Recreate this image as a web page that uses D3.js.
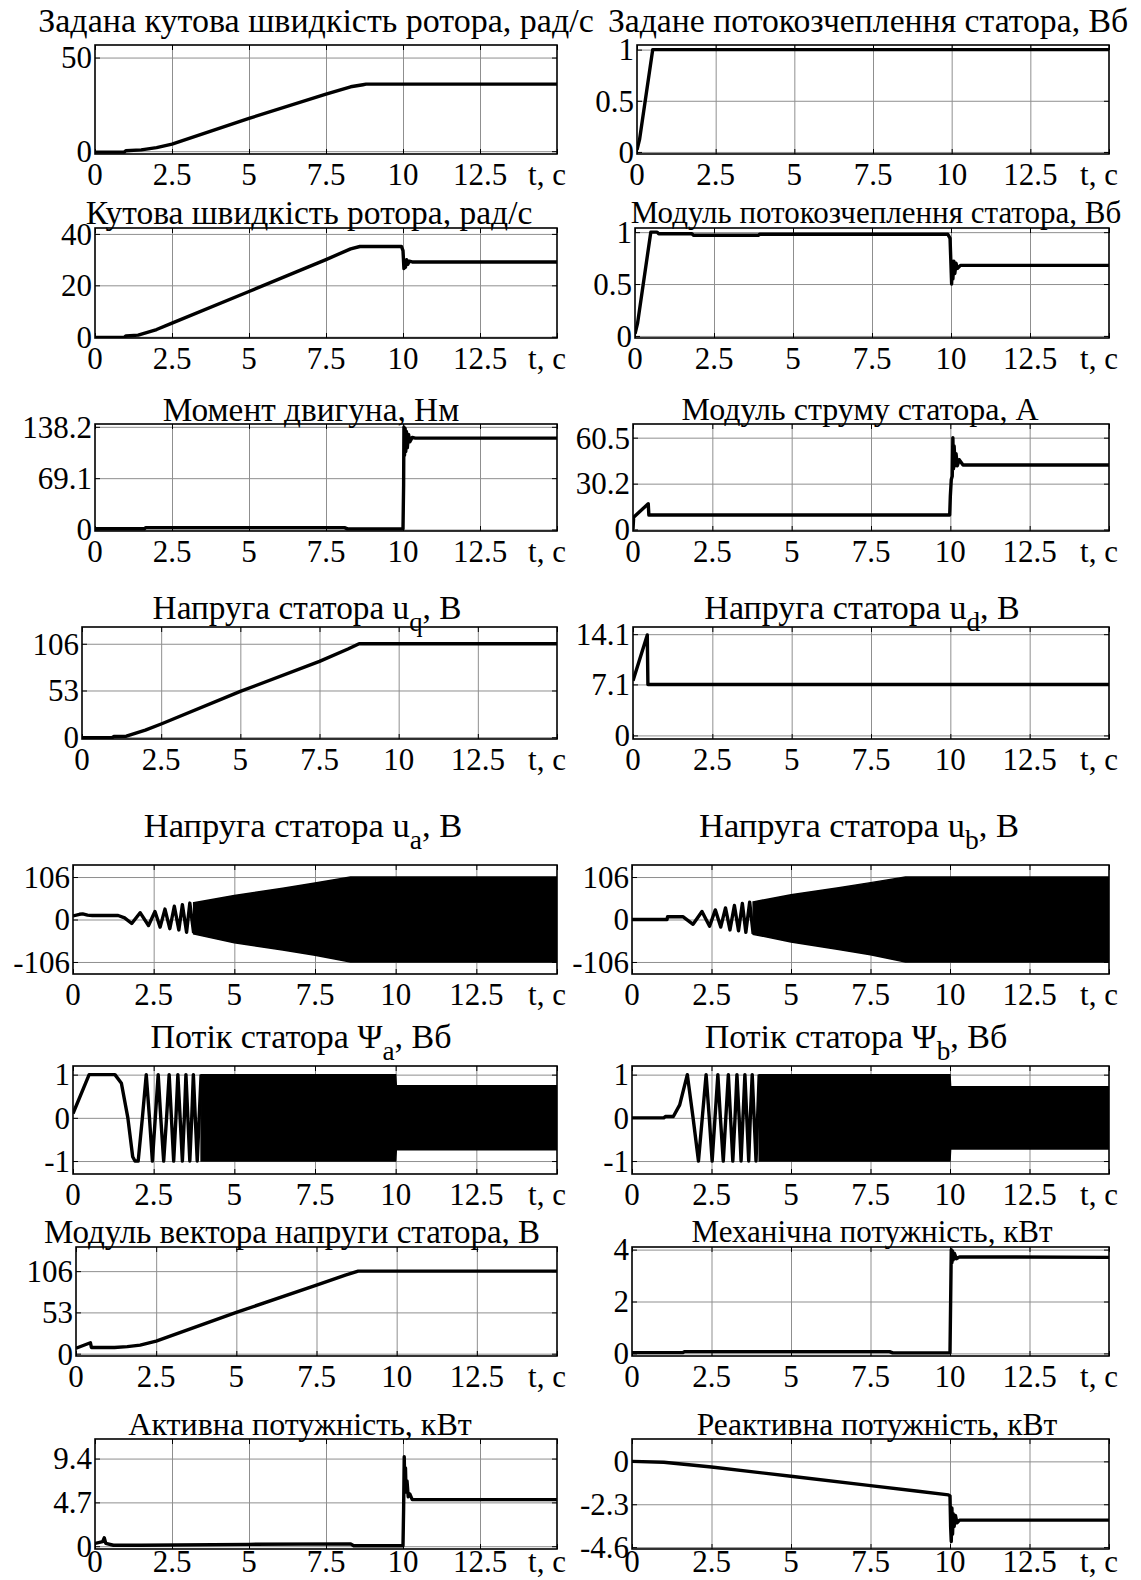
<!DOCTYPE html>
<html>
<head>
<meta charset="utf-8">
<script src="https://cdn.jsdelivr.net/npm/d3@7"></script>
<style>
body { margin: 0; background: #fff; }
svg { display: block; font-family: "Liberation Serif", "Times New Roman", serif; }
</style>
</head>
<body>
<svg id="chart" width="1141" height="1580"></svg>
<script>
// ---- data ----
const xTicks = [0, 2.5, 5, 7.5, 10, 12.5, 15];
const xTickLabels = ["0", "2.5", "5", "7.5", "10", "12.5", "t, c"];

// row 1
const speedRef = [[0,-0.5],[0.95,-0.5],[1.0,0.2],[1.5,0.7],[2.0,1.9],[2.5,3.8],[5,17.5],[7.5,30.5],[8.3,34.4],[8.7,35.5],[8.8,35.8],[15,35.8]];
const fluxRef = [[0,0.02],[0.08,0.12],[0.5,1],[15,1]];
// row 2
const speed = [[0,-0.3],[0.95,-0.3],[1.0,0.3],[1.4,0.6],[2.0,2.8],[2.5,5.3],[5,17.6],[7.5,30],[8.3,34.2],[8.6,35.1],[9.95,35.1],[10.0,33.5],[10.03,26.5],[10.06,29.5],[10.08,27],[10.12,30],[10.16,28.2],[10.2,29.4],[10.3,29.1],[15,29.1]];
const fluxMod = [[0,0.02],[0.08,0.12],[0.5,1],[0.7,1],[0.75,0.985],[1.8,0.985],[1.85,0.97],[3.9,0.97],[3.95,0.98],[9.9,0.98],[9.97,0.94],[10.02,0.5],[10.04,0.72],[10.06,0.55],[10.09,0.72],[10.12,0.6],[10.16,0.7],[10.2,0.65],[10.3,0.68],[15,0.68]];
// row 3
const torque = [[0,1],[1.6,1],[1.65,2.5],[8.1,2.5],[8.2,0.8],[10.0,0.8],[10.02,60],[10.03,138],[10.05,100],[10.07,136],[10.09,105],[10.11,132],[10.14,110],[10.18,128],[10.22,118],[10.3,124],[10.4,123],[15,123]];
const current = [[0,0],[0.02,8],[0.48,17],[0.5,9.5],[9.98,9.5],[10.0,22],[10.03,33],[10.06,35],[10.08,60.5],[10.1,40],[10.12,55],[10.15,42],[10.18,50],[10.22,42],[10.28,46],[10.4,42.5],[15,42.5]];
// row 4
const uq = [[0,-0.5],[0.95,-0.5],[1.0,0.8],[1.4,1.2],[2.0,8],[2.5,15],[5,52],[7.5,86],[8.4,100],[8.75,106],[15,106]];
const ud = [[0,7.6],[0.45,14.0],[0.47,7.1],[15,7.1]];
// row 5: visible early swings, then a dense band given by its envelope [t, low, high]
const uaStart = [[0,9],[0.2,13],[0.3,14],[0.45,11],[0.6,10],[1.4,10],[1.6,4],[1.82,-10],[2.08,17],[2.34,-15],[2.54,20],[2.7,-19],[2.85,26],[3.0,-23],[3.14,33],[3.28,-26],[3.39,37],[3.52,-32],[3.62,41],[3.74,-34]];
const uaBand = [[3.74,-36,42],[5,-58,60],[6.5,-76,78],[7.5,-89,91],[8.6,-106,106],[15,-106,106]];
const ubStart = [[0,0],[1.1,0],[1.12,7],[1.6,7],[1.92,-12],[2.2,20],[2.44,-17],[2.62,24],[2.79,-19],[2.94,29],[3.08,-26],[3.22,35],[3.35,-28],[3.47,40],[3.58,-32],[3.7,43],[3.81,-36]];
const ubBand = [[3.81,-37,44],[5,-56,62],[6.5,-75,79],[7.5,-88,92],[8.6,-106,106],[15,-106,106]];
// row 6
const psiaStart = [[0,0.1],[0.5,1],[1.3,1],[1.5,0.8],[1.7,0],[1.85,-0.9],[1.92,-1],[2.02,-1],[2.15,0],[2.27,1],[2.37,0],[2.46,-1],[2.55,0],[2.64,1],[2.72,0],[2.81,-1],[2.9,0],[2.98,1],[3.05,0],[3.12,-1],[3.19,0],[3.25,1],[3.32,0],[3.39,-1],[3.45,0],[3.5,1],[3.56,0],[3.62,-1],[3.68,0],[3.73,1],[3.79,0],[3.85,-1],[3.91,0],[3.97,1]];
const psiaBand = [[3.97,-1,1],[10.0,-1,1],[10.02,-0.74,0.74],[15,-0.74,0.74]];
const psibStart = [[0,0],[1.0,0],[1.05,0.03],[1.3,0.03],[1.5,0.3],[1.74,1],[1.92,0],[2.09,-1],[2.21,0],[2.33,1],[2.43,0],[2.52,-1],[2.61,0],[2.7,1],[2.78,0],[2.87,-1],[2.95,0],[3.03,1],[3.1,0],[3.17,-1],[3.24,0],[3.3,1],[3.37,0],[3.43,-1],[3.49,0],[3.55,1],[3.61,0],[3.67,-1],[3.72,0],[3.78,1],[3.84,0],[3.9,-1],[3.95,0],[4.0,1]];
const psibBand = [[4.0,-1,1],[10.0,-1,1],[10.02,-0.72,0.72],[15,-0.72,0.72]];
// row 7
const uMod = [[0,7],[0.45,14],[0.48,8],[1.2,8],[1.6,9],[2,11],[2.5,16],[5,53],[7.5,88],[8.4,101],[8.8,106],[15,106]];
const pMech = [[0,0.03],[1.6,0.03],[1.65,0.07],[8.1,0.07],[8.2,0.02],[10.0,0.02],[10.02,2],[10.04,4],[10.06,3.5],[10.08,3.95],[10.1,3.6],[10.14,3.85],[10.2,3.65],[10.3,3.72],[15,3.7]];
// row 8
const pAct = [[0,0.3],[0.25,0.5],[0.3,0.9],[0.35,0.3],[0.6,0.1],[1.5,0.1],[5,0.2],[8.3,0.25],[8.4,0.05],[10.0,0.05],[10.02,4],[10.04,9.6],[10.06,6],[10.08,8.4],[10.1,5.8],[10.13,7],[10.17,5.3],[10.22,5.6],[10.3,5.0],[15,5.0]];
const qReact = [[0,0],[1,-0.05],[2.5,-0.3],[5,-0.8],[7.5,-1.3],[9,-1.6],[9.95,-1.8],[10.0,-1.85],[10.02,-3.5],[10.04,-4.3],[10.06,-2.5],[10.08,-3.9],[10.1,-2.8],[10.13,-3.5],[10.17,-2.9],[10.22,-3.3],[10.3,-3.15],[15,-3.15]];

// ---- layout ----
const rowY = [[45,154],[228,338],[424,531],[627,739],[865,974],[1066,1174],[1247,1356],[1439,1549]];
const titleY = [20,212,409,607,825,1036,1231,1424];
const xLabelGap = [20,20,20,20,20,20,20,12];
const leftX = [95,95,95,82,73,73,76,95];
const rightX = [637,635,633,633,632,632,632,632];
const leftEnd = 557, rightEnd = 1109;

// tx: title centre, ts: title font size
const panels = [
  {row:0,col:0,title:[["Задана кутова швидкість ротора, рад/с"]],tx:316,ts:34,y:[-1.5,56.7],ticks:[0,50],labels:["0","50"],lines:[speedRef]},
  {row:0,col:1,title:[["Задане потокозчеплення статора, Вб"]],tx:868,ts:33.7,y:[-0.02,1.045],ticks:[0,0.5,1],labels:["0","0.5","1"],lines:[fluxRef]},
  {row:1,col:0,title:[["Кутова швидкість ротора, рад/с"]],tx:309,ts:33.5,y:[-0.5,42.3],ticks:[0,20,40],labels:["0","20","40"],lines:[speed]},
  {row:1,col:1,title:[["Модуль потокозчеплення статора, Вб"]],tx:876,ts:31,y:[-0.02,1.04],ticks:[0,0.5,1],labels:["0","0.5","1"],lines:[fluxMod]},
  {row:2,col:0,title:[["Момент двигуна, Нм"]],tx:311,ts:33.3,y:[-2,142],ticks:[0,69.1,138.2],labels:["0","69.1","138.2"],lines:[torque]},
  {row:2,col:1,title:[["Модуль струму статора, А"]],tx:860,ts:32,y:[-1,69.5],ticks:[0,30.2,60.5],labels:["0","30.2","60.5"],lines:[current]},
  {row:3,col:0,title:[["Напруга статора u"],["q",1],[", В"]],tx:307,ts:33.3,y:[-2,125],ticks:[0,53,106],labels:["0","53","106"],lines:[uq]},
  {row:3,col:1,title:[["Напруга статора u"],["d",1],[", В"]],tx:862,ts:34,y:[-0.5,15.1],ticks:[0,7.1,14.1],labels:["0","7.1","14.1"],lines:[ud]},
  {row:4,col:0,title:[["Напруга статора u"],["a",1],[", В"]],tx:303,ts:34.5,y:[-136,136],ticks:[-106,0,106],labels:["-106","0","106"],lines:[uaStart],bands:[uaBand]},
  {row:4,col:1,title:[["Напруга статора u"],["b",1],[", В"]],tx:859,ts:34.5,y:[-136,136],ticks:[-106,0,106],labels:["-106","0","106"],lines:[ubStart],bands:[ubBand]},
  {row:5,col:0,title:[["Потік статора Ψ"],["a",1],[", Вб"]],tx:301,ts:34,y:[-1.3,1.2],ticks:[-1,0,1],labels:["-1","0","1"],lines:[psiaStart],bands:[psiaBand]},
  {row:5,col:1,title:[["Потік статора Ψ"],["b",1],[", Вб"]],tx:856,ts:34,y:[-1.3,1.2],ticks:[-1,0,1],labels:["-1","0","1"],lines:[psibStart],bands:[psibBand]},
  {row:6,col:0,title:[["Модуль вектора напруги статора, В"]],tx:292,ts:33,y:[-3,137],ticks:[0,53,106],labels:["0","53","106"],lines:[uMod]},
  {row:6,col:1,title:[["Механічна потужність, кВт"]],tx:872,ts:31,y:[-0.1,4.1],ticks:[0,2,4],labels:["0","2","4"],lines:[pMech]},
  {row:7,col:0,title:[["Активна потужність, кВт"]],tx:300,ts:32,y:[-0.3,11.5],ticks:[0,4.7,9.4],labels:["0","4.7","9.4"],lines:[pAct]},
  {row:7,col:1,title:[["Реактивна потужність, кВт"]],tx:877,ts:31.5,y:[-4.7,1.2],ticks:[-4.6,-2.3,0],labels:["-4.6","-2.3","0"],lines:[qReact]}
];

const svg = d3.select("#chart");
const tickFont = 31;

panels.forEach((p, i) => {
  const x0 = p.col === 0 ? leftX[p.row] : rightX[p.row];
  const x1 = p.col === 0 ? leftEnd : rightEnd;
  const [y0, y1] = rowY[p.row];
  const x = d3.scaleLinear().domain([0, 15]).range([x0, x1]);
  const y = d3.scaleLinear().domain(p.y).range([y1, y0]);
  const g = svg.append("g");

  g.append("clipPath").attr("id", "clip" + i)
    .append("rect").attr("x", x0).attr("y", y0).attr("width", x1 - x0).attr("height", y1 - y0);

  // grid
  const gridStyle = s => { s.select(".domain").remove(); s.selectAll("line").attr("stroke", "#8f8f8f").attr("stroke-width", 1); };
  g.append("g").attr("transform", `translate(0,${y1})`)
    .call(d3.axisBottom(x).tickValues(xTicks.slice(1, -1)).tickSize(-(y1 - y0)).tickFormat(""))
    .call(gridStyle);
  g.append("g").attr("transform", `translate(${x0},0)`)
    .call(d3.axisLeft(y).tickValues(p.ticks).tickSize(-(x1 - x0)).tickFormat(""))
    .call(gridStyle);

  // data
  const plot = g.append("g").attr("clip-path", `url(#clip${i})`);
  (p.bands || []).forEach(b => {
    plot.append("path").datum(b)
      .attr("d", d3.area().x(d => x(d[0])).y0(d => y(d[1])).y1(d => y(d[2])))
      .attr("fill", "#000").attr("stroke", "#000").attr("stroke-width", 1.5);
  });
  p.lines.forEach(l => {
    plot.append("path").datum(l)
      .attr("d", d3.line().x(d => x(d[0])).y(d => y(d[1])))
      .attr("fill", "none").attr("stroke", "#000").attr("stroke-width", 3.4)
      .attr("stroke-linejoin", "round");
  });

  // inward ticks on the four sides
  const tk = 5;
  const tickStyle = s => { s.select(".domain").remove(); s.selectAll("line").attr("stroke", "#000").attr("stroke-width", 1); };
  g.append("g").attr("transform", `translate(0,${y1})`)
    .call(d3.axisBottom(x).tickValues(xTicks).tickSize(-tk).tickFormat("")).call(tickStyle);
  g.append("g").attr("transform", `translate(0,${y0})`)
    .call(d3.axisTop(x).tickValues(xTicks).tickSize(-tk).tickFormat("")).call(tickStyle);
  g.append("g").attr("transform", `translate(${x0},0)`)
    .call(d3.axisLeft(y).tickValues(p.ticks).tickSize(-tk).tickFormat("")).call(tickStyle);
  g.append("g").attr("transform", `translate(${x1},0)`)
    .call(d3.axisRight(y).tickValues(p.ticks).tickSize(-tk).tickFormat("")).call(tickStyle);

  g.append("rect").attr("x", x0).attr("y", y0).attr("width", x1 - x0).attr("height", y1 - y0)
    .attr("fill", "none").attr("stroke", "#000").attr("stroke-width", 1.6);

  // tick labels
  g.selectAll(".yl").data(p.ticks).join("text")
    .attr("x", x0 - 3).attr("y", d => y(d)).attr("dy", "0.35em")
    .attr("text-anchor", "end").attr("font-size", tickFont).text((d, k) => p.labels[k]);
  g.selectAll(".xl").data(xTicks).join("text")
    .attr("x", (d, k) => k === xTicks.length - 1 ? x(d) - 10 : x(d))
    .attr("y", y1 + xLabelGap[p.row]).attr("dy", "0.35em")
    .attr("text-anchor", "middle").attr("font-size", tickFont).text((d, k) => xTickLabels[k]);

  // title
  const t = g.append("text").attr("x", p.tx).attr("y", titleY[p.row]).attr("dy", "0.35em")
    .attr("text-anchor", "middle").attr("font-size", p.ts);
  p.title.forEach((part, k) => {
    const ts = t.append("tspan").text(part[0]);
    if (part[1]) ts.attr("font-size", p.ts * 0.8).attr("dy", "0.45em");
    else if (k > 0) ts.attr("dy", "-0.36em");
  });
});
</script>
</body>
</html>
